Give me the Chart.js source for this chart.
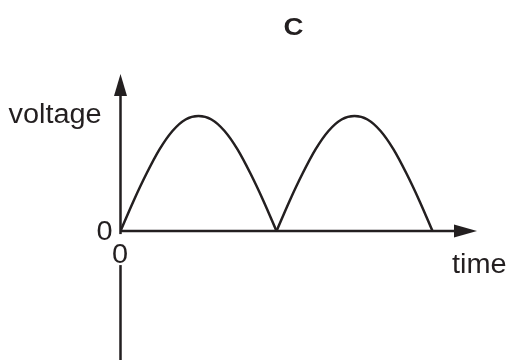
<!DOCTYPE html>
<html>
<head>
<meta charset="utf-8">
<script src="https://cdn.jsdelivr.net/npm/chart.js@4"></script>
<style>
  html, body { margin: 0; padding: 0; background: #fff; }
  #wrap { width: 508px; height: 360px; }
</style>
</head>
<body>
<div id="wrap"><canvas id="grafico" width="508" height="360"></canvas></div>
<script>
// first half-wave
const tempo1 = [0, 0.083, 0.167, 0.25, 0.333, 0.417, 0.5, 0.583, 0.667, 0.75, 0.833, 0.917, 1];
const tensao1 = [0, 0.26, 0.5, 0.71, 0.87, 0.97, 1, 0.97, 0.87, 0.71, 0.5, 0.26, 0];
// second half-wave
const tempo2 = [1, 1.083, 1.167, 1.25, 1.333, 1.417, 1.5, 1.583, 1.667, 1.75, 1.833, 1.917, 2];
const tensao2 = [0, 0.26, 0.5, 0.71, 0.87, 0.97, 1, 0.97, 0.87, 0.71, 0.5, 0.26, 0];

const tituloGrafico = 'C';
const rotuloY = 'voltage';
const rotuloX = 'time';
const rotuloZero = '0';

const tinta = '#231f20';
const fonte = '"Liberation Sans", Arial, sans-serif';

function textoEsticado(ctx, txt, x, y, font, sx, align) {
    ctx.save();
    ctx.font = font;
    ctx.textAlign = align || 'left';
    ctx.textBaseline = 'alphabetic';
    ctx.translate(x, y);
    ctx.scale(sx, 1);
    ctx.fillText(txt, 0, 0);
    ctx.restore();
}

const eixosPlugin = {
    id: 'eixos',
    beforeDatasetsDraw(chart) {
        const { ctx, scales: { x, y } } = chart;
        const x0   = x.getPixelForValue(0);
        const y0   = y.getPixelForValue(0);
        const yTop = y.getPixelForValue(y.max);
        const yBot = y.getPixelForValue(y.min);
        const xEnd = x.getPixelForValue(x.max);

        ctx.save();
        ctx.strokeStyle = tinta;
        ctx.fillStyle   = tinta;
        ctx.lineWidth   = 2.5;

        ctx.beginPath();
        ctx.moveTo(x0, yTop + 18);
        ctx.lineTo(x0, yBot);
        ctx.moveTo(x0, y0);
        ctx.lineTo(xEnd - 18, y0);
        ctx.stroke();

        // setas
        ctx.beginPath();
        ctx.moveTo(x0, yTop);
        ctx.lineTo(x0 - 6.5, yTop + 22);
        ctx.lineTo(x0 + 6.5, yTop + 22);
        ctx.closePath();
        ctx.fill();

        ctx.beginPath();
        ctx.moveTo(xEnd, y0);
        ctx.lineTo(xEnd - 23, y0 - 6.5);
        ctx.lineTo(xEnd - 23, y0 + 6.5);
        ctx.closePath();
        ctx.fill();
        ctx.restore();
    },
    afterDatasetsDraw(chart) {
        const { ctx, scales: { x, y } } = chart;
        const x0 = x.getPixelForValue(0);
        const y0 = y.getPixelForValue(0);
        const f = '27px ' + fonte;

        ctx.save();
        // fundo branco atras do zero de baixo
        ctx.fillStyle = '#fff';
        ctx.fillRect(x0 - 9, y0 + 3, 18, 31);

        ctx.fillStyle = tinta;
        textoEsticado(ctx, rotuloY, x0 - 112, y0 - 108, f, 1.07);
        textoEsticado(ctx, rotuloZero, x0 - 24, y0 + 9, f, 1.07);
        textoEsticado(ctx, rotuloZero, x0 - 8.5, y0 + 32, f, 1.07);
        textoEsticado(ctx, rotuloX, 452, y0 + 42, f, 1.07);
        textoEsticado(ctx, tituloGrafico, 293.5, 35, 'bold 24px ' + fonte, 1.15, 'center');
        ctx.restore();
    }
};

const estiloCurva = {
    borderColor: tinta,
    borderWidth: 2.5,
    pointRadius: 0,
    fill: false,
    cubicInterpolationMode: 'monotone'
};

new Chart(document.getElementById('grafico'), {
    type: 'line',
    data: {
        datasets: [
            Object.assign({ data: tempo1.map((t, i) => ({ x: t, y: tensao1[i] })) }, estiloCurva),
            Object.assign({ data: tempo2.map((t, i) => ({ x: t, y: tensao2[i] })) }, estiloCurva)
        ]
    },
    options: {
        responsive: false,
        animation: false,
        devicePixelRatio: 1,
        layout: { padding: { left: 120.5, right: 31, top: 74, bottom: 0 } },
        plugins: {
            legend: { display: false },
            tooltip: { enabled: false }
        },
        scales: {
            x: { type: 'linear', min: 0, max: 2.285, display: false },
            y: { type: 'linear', min: -1.12, max: 1.365, display: false }
        }
    },
    plugins: [eixosPlugin]
});
</script>
</body>
</html>
